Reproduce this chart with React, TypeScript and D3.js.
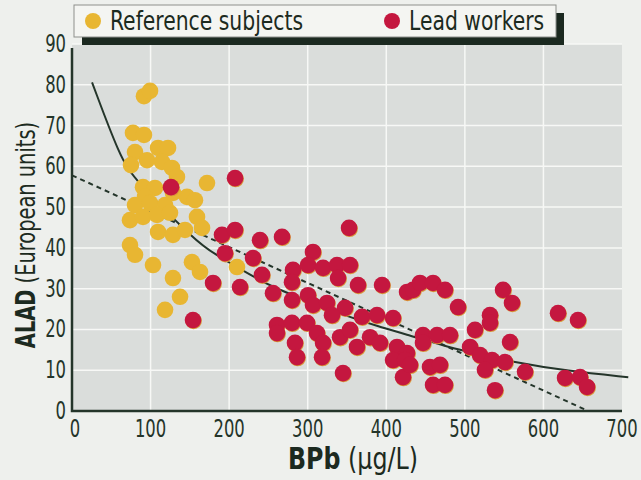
import { useEffect, useRef } from "react";
import * as d3 from "d3";

// Blood lead (BPb, µg/L) vs ALAD activity
const referenceSubjects: [number, number][] = [
  [91.6, 77.2], [99.3, 78.5], [77.6, 68.2], [91.6, 67.7], [80.2, 63.5], [109.5, 64.5],
  [122.2, 64.5], [75.1, 60.3], [95.5, 61.5], [114.5, 61.1], [127.3, 59.6], [133.6, 57.4],
  [171.8, 55.9], [90.4, 54.9], [105.6, 54.7], [146.4, 52.5], [156.5, 51.7], [92.9, 52.5],
  [80.2, 50.5], [99.3, 51.0], [118.4, 50.5], [73.8, 46.8], [90.4, 47.6], [108.2, 48.1],
  [124.7, 48.6], [159.1, 47.6], [165.5, 44.9], [109.5, 43.9], [128.5, 43.2], [143.8, 44.4],
  [73.8, 40.7], [80.2, 38.3], [103.1, 35.8], [152.7, 36.5], [162.9, 34.1], [128.5, 32.6],
  [137.5, 28.0], [118.4, 24.8], [210.0, 35.3], [128.5, 53.5],
];

const leadWorkers: [number, number][] = [
  [126.0, 54.9], [207.5, 57.1], [154.0, 22.3], [190.9, 43.2], [207.5, 44.4], [194.7, 38.7],
  [179.5, 31.4], [213.8, 30.4], [239.3, 41.9], [267.3, 42.7], [230.4, 37.5], [241.8, 33.4],
  [352.6, 44.9], [306.7, 39.0], [281.3, 34.6], [300.4, 35.8], [319.5, 35.1], [337.3, 35.8],
  [353.8, 35.8], [338.6, 32.6], [280.0, 31.6], [364.0, 30.9], [394.6, 30.9], [426.4, 29.2],
  [255.8, 28.9], [280.0, 27.2], [300.4, 28.4], [306.7, 26.0], [324.5, 26.5], [347.5, 25.3],
  [330.9, 23.5], [369.1, 23.1], [388.2, 23.5], [408.6, 22.8], [260.9, 21.1], [280.0, 21.6],
  [299.1, 21.6], [260.9, 19.1], [283.8, 16.7], [286.4, 13.2], [311.8, 19.1], [319.5, 16.7],
  [318.2, 13.2], [341.1, 18.1], [353.8, 19.9], [362.7, 15.7], [379.3, 18.1], [392.0, 16.7],
  [413.6, 15.7], [408.6, 12.5], [421.3, 8.3], [344.9, 9.3], [426.4, 14.2], [434.0, 29.7],
  [442.9, 31.4], [459.5, 31.4], [474.7, 29.7], [548.6, 29.7], [560.0, 26.5], [491.3, 25.5],
  [532.0, 23.5], [532.0, 21.6], [512.9, 19.9], [446.7, 18.6], [446.7, 16.7], [464.6, 18.6],
  [481.1, 18.6], [506.6, 15.7], [519.3, 13.7], [557.5, 16.9], [534.6, 12.5], [551.1, 12.0],
  [525.6, 10.1], [576.6, 9.6], [538.4, 5.1], [423.8, 12.5], [430.2, 11.3], [455.6, 10.8],
  [468.4, 11.3], [459.5, 6.4], [474.7, 6.4], [618.6, 24.0], [644.0, 22.3], [627.5, 8.1],
  [646.6, 8.3], [655.5, 5.9],
];

// fitted curves
const curveFit: [number, number][] = [
  [25.5, 80.6], [61, 62.3], [80, 56.6], [159, 41.4], [180, 38.7], [223, 33.8], [255, 30.4],
  [303, 26.7], [354, 23.0], [392, 20.6], [418, 19.2], [494, 14.8], [562, 12.0], [631, 9.8], [708, 8.3],
];
const linearFit: [number, number][] = [[0, 57.8], [657, 0]];

const xTicks = [0, 100, 200, 300, 400, 500, 600, 700];
const yTicks = [0, 10, 20, 30, 40, 50, 60, 70, 80, 90];

const YELLOW = "#e8b632";
const RED = "#c4173f";
const INK = "#24352a";
const FONT = "'Liberation Sans Narrow', 'DejaVu Sans Condensed', 'Arial Narrow', sans-serif";

export default function App() {
  const svgRef = useRef<SVGSVGElement | null>(null);

  useEffect(() => {
    if (!svgRef.current) return;
    const width = 641;
    const height = 480;
    const svg = d3.select(svgRef.current);
    svg.selectAll("*").remove();
    svg.attr("width", width).attr("height", height);

    const x = d3.scaleLinear().domain([0, 700]).range([72, 622]);
    const y = d3.scaleLinear().domain([0, 90]).range([411, 44]);

    // narrow text: the printed figure uses a condensed face
    const label = (g: any, tx: number, ty: number, sx: number, size: number, anchor = "start") =>
      g
        .append("text")
        .attr("transform", `translate(${tx},${ty}) scale(${sx},1)`)
        .attr("text-anchor", anchor)
        .style("font-family", FONT)
        .style("font-size", `${size}px`)
        .style("fill", INK);

    // page + plot background
    svg.append("rect").attr("width", width).attr("height", height).attr("fill", "#eef0ed");
    svg
      .append("rect")
      .attr("x", x(0))
      .attr("y", y(90))
      .attr("width", x(700) - x(0))
      .attr("height", y(0) - y(90))
      .attr("fill", "#dadddb");

    // grid
    svg
      .append("g")
      .selectAll("line")
      .data(xTicks.slice(1, -1))
      .join("line")
      .attr("x1", d => x(d))
      .attr("x2", d => x(d))
      .attr("y1", y(90))
      .attr("y2", y(0))
      .attr("stroke", "#f7f8f6")
      .attr("stroke-width", 1.5);
    svg
      .append("g")
      .selectAll("line")
      .data(yTicks.slice(1))
      .join("line")
      .attr("x1", x(0))
      .attr("x2", x(700))
      .attr("y1", d => y(d))
      .attr("y2", d => y(d))
      .attr("stroke", "#f7f8f6")
      .attr("stroke-width", 1.5);

    // fit lines
    const line = d3.line<[number, number]>().x(d => x(d[0])).y(d => y(d[1]));
    svg
      .append("path")
      .datum(linearFit)
      .attr("fill", "none")
      .attr("stroke", INK)
      .attr("stroke-width", 2)
      .attr("stroke-dasharray", "5,4")
      .attr("d", line);
    svg
      .append("path")
      .datum(curveFit)
      .attr("fill", "none")
      .attr("stroke", INK)
      .attr("stroke-width", 2)
      .attr("d", line.curve(d3.curveBasis));

    // points
    const r = 8.3;
    svg
      .append("g")
      .selectAll("circle")
      .data(referenceSubjects)
      .join("circle")
      .attr("cx", d => x(d[0]))
      .attr("cy", d => y(d[1]))
      .attr("r", r)
      .attr("fill", YELLOW);
    svg
      .append("g")
      .selectAll("circle")
      .data(leadWorkers)
      .join("circle")
      .attr("cx", d => x(d[0]) + 0.6)
      .attr("cy", d => y(d[1]) + 0.9)
      .attr("r", r)
      .attr("fill", "#d9973a");
    svg
      .append("g")
      .selectAll("circle")
      .data(leadWorkers)
      .join("circle")
      .attr("cx", d => x(d[0]))
      .attr("cy", d => y(d[1]))
      .attr("r", r)
      .attr("fill", RED);

    // axes lines
    svg
      .append("path")
      .attr("d", `M${x(0)},${y(89)}V${y(0)}H${x(700)}`)
      .attr("fill", "none")
      .attr("stroke", INK)
      .attr("stroke-width", 2.5);

    // tick labels
    const xg = svg.append("g");
    xTicks.forEach(d => label(xg, x(d) + (d === 0 ? 3 : 0), 437, 0.76, 24, "middle").text(d));
    const yg = svg.append("g");
    yTicks.forEach(d => label(yg, 66, y(d) + 8, 0.76, 24, "end").text(d));

    // axis titles
    const xt = label(svg, 353, 469, 0.88, 30, "middle").style("fill", "#1c2a20");
    xt.append("tspan").style("font-weight", "bold").text("BPb");
    xt.append("tspan").text(" (\u03bcg/L)");

    const yt = svg
      .append("text")
      .attr("transform", `translate(35,235) rotate(-90) scale(0.8,1)`)
      .attr("text-anchor", "middle")
      .style("font-family", FONT)
      .style("font-size", "27px")
      .style("fill", "#1c2a20");
    yt.append("tspan").style("font-weight", "bold").text("ALAD");
    yt.append("tspan").text(" (European units)");

    // legend
    const lg = svg.append("g");
    lg.append("rect").attr("x", 82).attr("y", 13).attr("width", 482).attr("height", 32).attr("fill", "#1b2920");
    lg.append("rect")
      .attr("x", 74)
      .attr("y", 5)
      .attr("width", 482)
      .attr("height", 32)
      .attr("fill", "#f4f5f2")
      .attr("stroke", "#8d8f8c")
      .attr("stroke-width", 1);
    const items: [string, string, number][] = [
      ["Reference subjects", YELLOW, 93],
      ["Lead workers", RED, 392],
    ];
    items.forEach(([text, color, cx]) => {
      lg.append("circle").attr("cx", cx).attr("cy", 21).attr("r", 8).attr("fill", color);
      label(lg, cx + 17, 30, 0.87, 26).style("fill", "#1c2a20").text(text);
    });
  }, []);

  return (
    <div style={{ position: "absolute", left: 0, top: 0 }}>
      <svg ref={svgRef} style={{ display: "block" }} />
    </div>
  );
}
